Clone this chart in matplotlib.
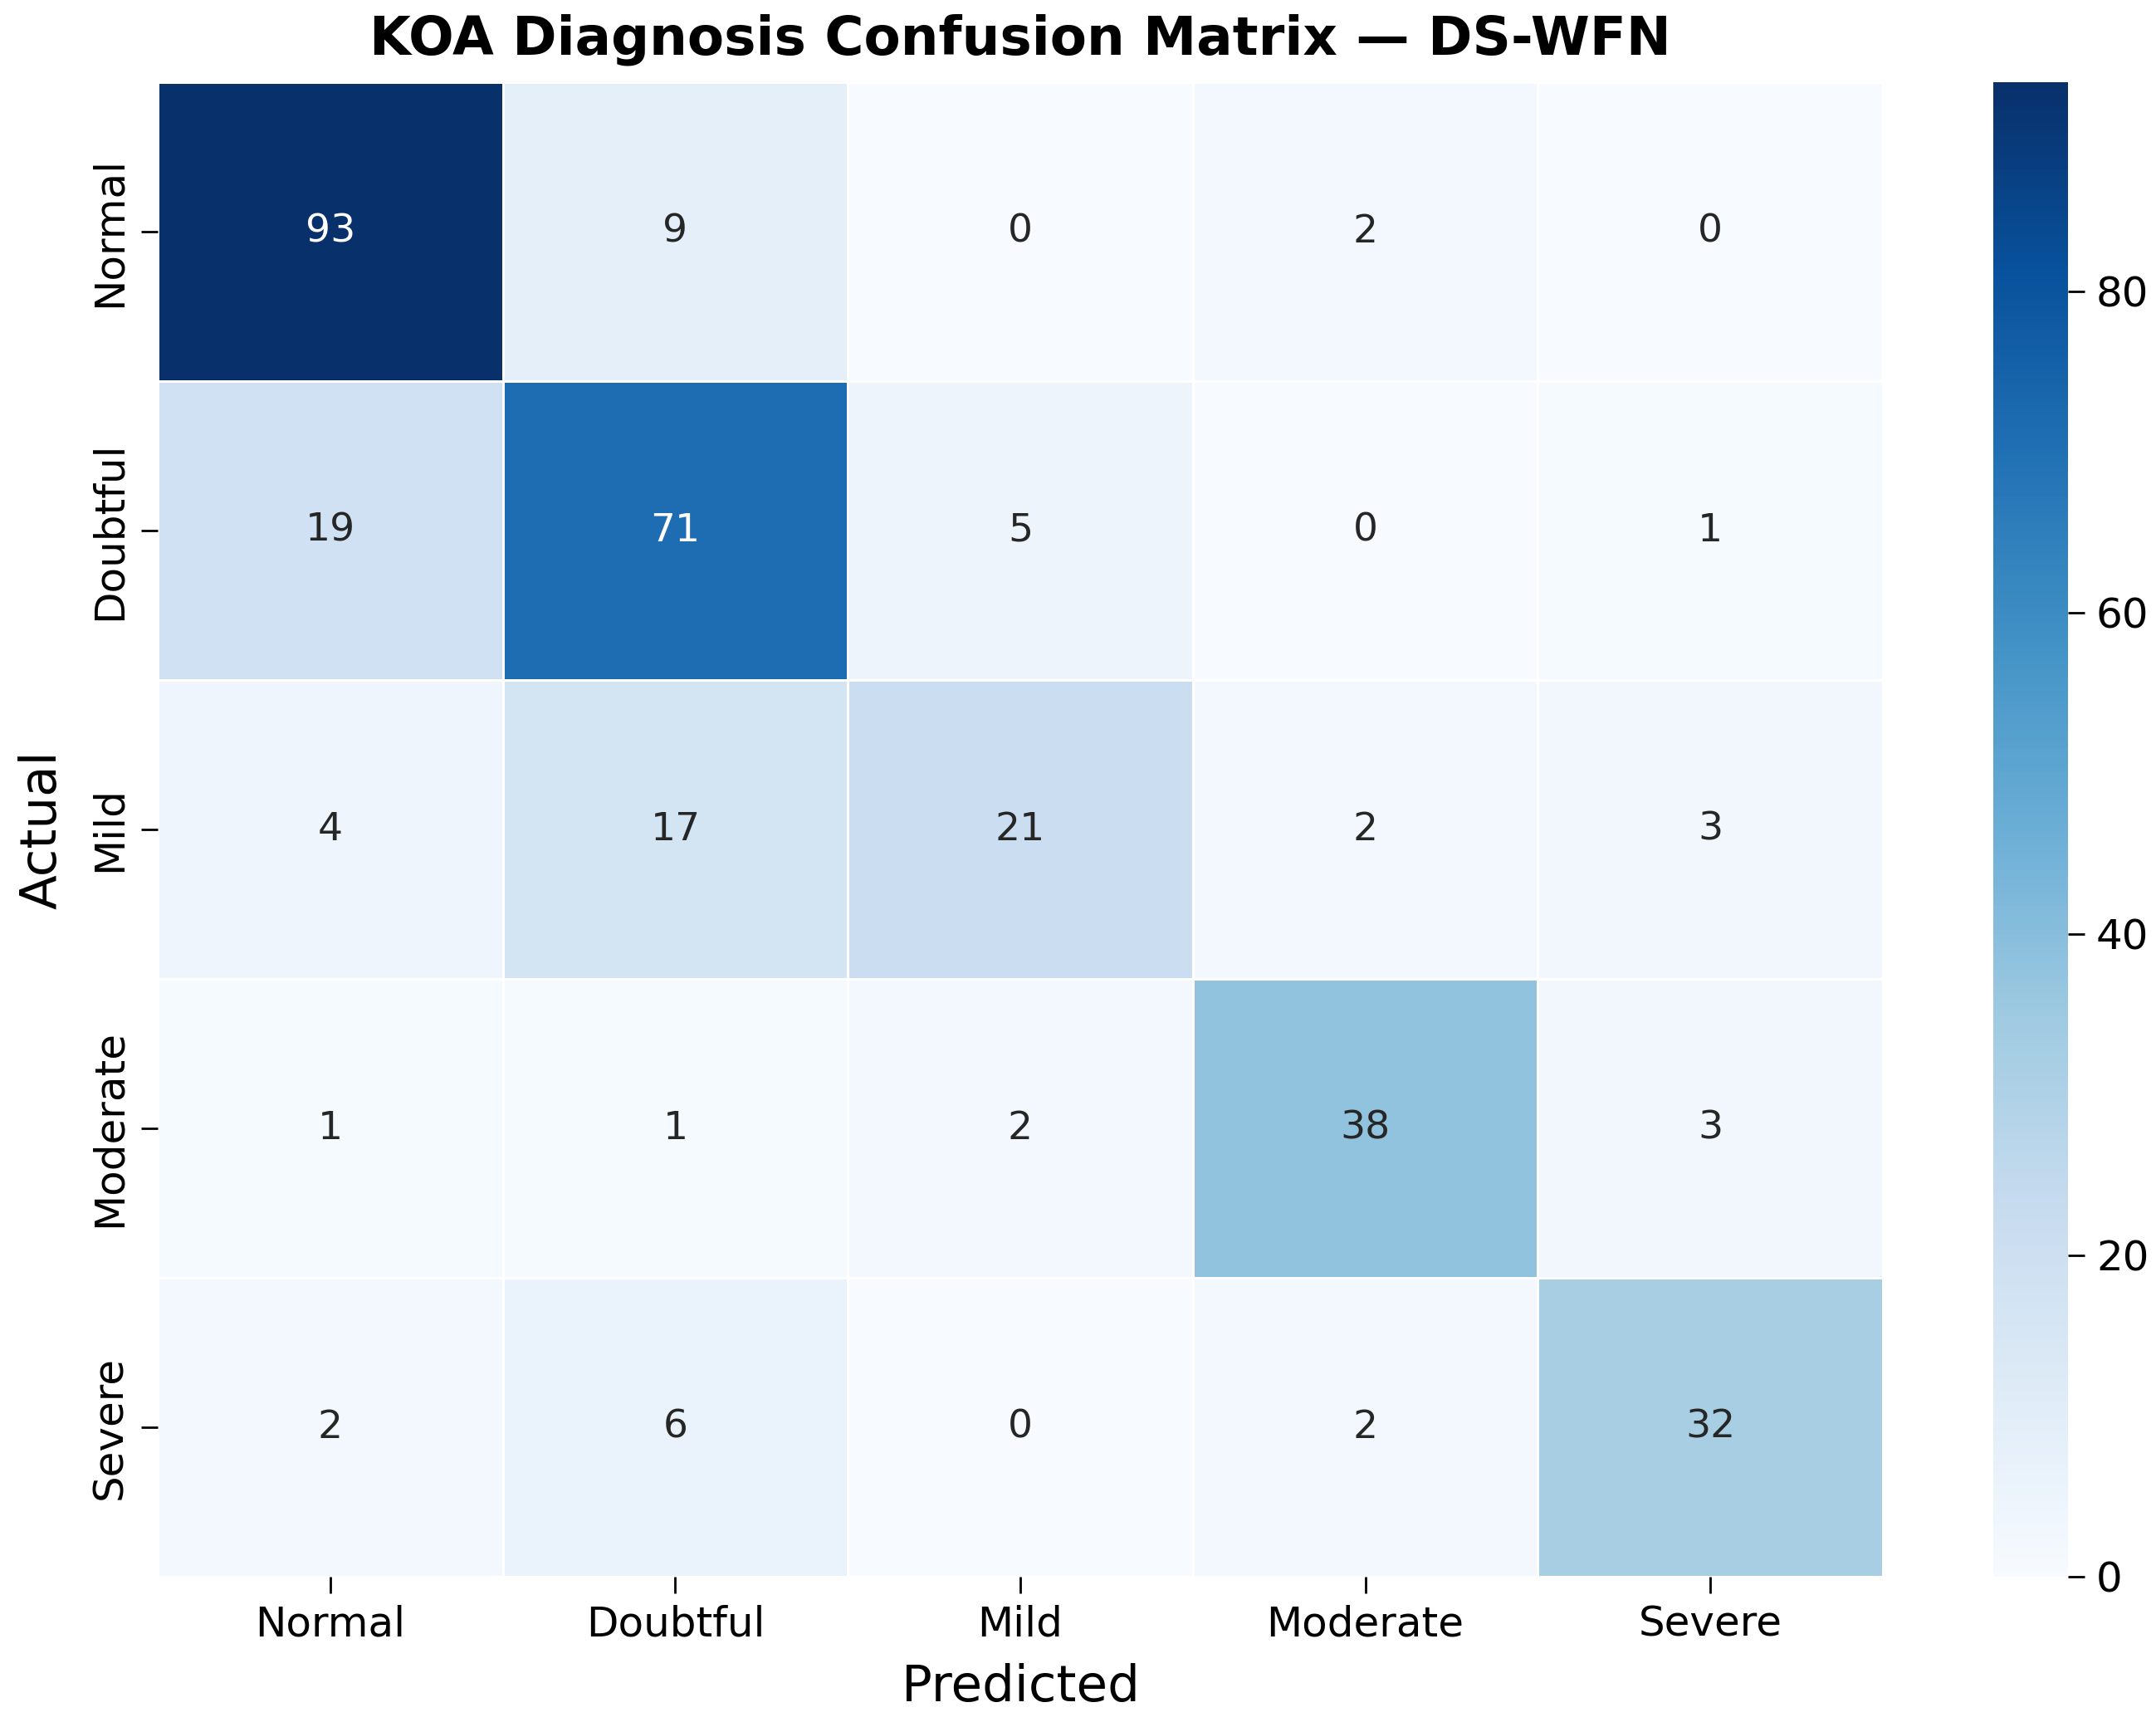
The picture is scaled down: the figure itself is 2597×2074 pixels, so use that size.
import matplotlib
matplotlib.use("Agg")
import matplotlib.pyplot as plt
import seaborn as sns
import numpy as np

classes = ["Normal", "Doubtful", "Mild", "Moderate", "Severe"]
row_normal = [93, 9, 0, 2, 0]
row_doubtful = [19, 71, 5, 0, 1]
row_mild = [4, 17, 21, 2, 3]
row_moderate = [1, 1, 2, 38, 3]
row_severe = [2, 6, 0, 2, 32]
cbar_ticks = [0, 20, 40, 60, 80]

cm = np.array([row_normal, row_doubtful, row_mild, row_moderate, row_severe])

plt.rcParams['font.family'] = ['DejaVu Sans']
W, H, DPI = 2597, 2074, 200
fig = plt.figure(figsize=(W / DPI, H / DPI), dpi=DPI)
ax = fig.add_axes([190 / W, (H - 1899) / H, 2078 / W, 1800 / H])
cax = fig.add_axes([2401 / W, (H - 1899) / H, 90 / W, 1800 / H])

sns.heatmap(cm, annot=True, fmt="d", cmap="Blues", linewidths=0.5, linecolor="white",
            xticklabels=classes, yticklabels=classes, ax=ax, cbar_ax=cax,
            annot_kws={"fontsize": 17})

ax.set_title("KOA Diagnosis Confusion Matrix — DS-WFN", fontsize=23.2, fontweight="bold", pad=12)
ax.set_xlabel("Predicted", fontsize=22, labelpad=8)
ax.set_ylabel("Actual", fontsize=22, labelpad=10)
ax.tick_params(axis="both", labelsize=18, length=7.2, width=1.0, pad=5)
plt.setp(ax.get_yticklabels(), rotation=90, va="center")
plt.setp(ax.get_xticklabels(), rotation=0)

cax.set_yticks(cbar_ticks)
cax.tick_params(labelsize=18, length=7.2, width=1.0, pad=5)
for s in cax.spines.values():
    s.set_visible(False)

fig.savefig("out.png", dpi=DPI)
